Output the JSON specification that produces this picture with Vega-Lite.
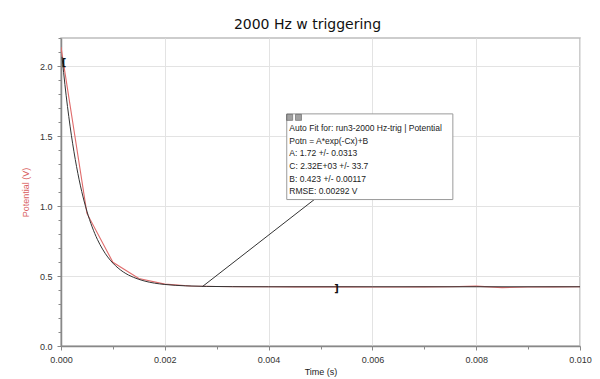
{
  "$schema": "https://vega.github.io/schema/vega-lite/v6.json",
  "autosize": "none",
  "width": 519,
  "height": 308,
  "padding": {"left": 61, "top": 38, "right": 20, "bottom": 33},
  "background": "white",
  "title": {
    "text": "2000 Hz w triggering",
    "font": "DejaVu Sans",
    "fontSize": 14,
    "fontWeight": "normal",
    "color": "#111111",
    "baseline": "alphabetic",
    "offset": -5,
    "dx": -13
  },
  "config": {
    "view": {"stroke": "#bdbdbd", "strokeWidth": 1.5},
    "axis": {
      "labelFont": "Liberation Sans",
      "labelFontSize": 9,
      "labelColor": "#333333",
      "titleFont": "Liberation Sans",
      "titleFontSize": 9,
      "titleFontWeight": "normal",
      "domainColor": "#888888",
      "domainWidth": 1.5,
      "tickColor": "#888888",
      "gridColor": "#e3e3e3",
      "labelPadding": 5
    }
  },
  "datasets": {
    "measured": [
      {"t": 0.0, "v": 2.135},
      {"t": 0.0005, "v": 0.947},
      {"t": 0.001, "v": 0.598},
      {"t": 0.0015, "v": 0.482},
      {"t": 0.002, "v": 0.442},
      {"t": 0.0025, "v": 0.429},
      {"t": 0.003, "v": 0.425},
      {"t": 0.0035, "v": 0.423},
      {"t": 0.004, "v": 0.423},
      {"t": 0.0045, "v": 0.422},
      {"t": 0.005, "v": 0.422},
      {"t": 0.0055, "v": 0.422},
      {"t": 0.006, "v": 0.421},
      {"t": 0.0065, "v": 0.421},
      {"t": 0.007, "v": 0.422},
      {"t": 0.0075, "v": 0.423},
      {"t": 0.008, "v": 0.428},
      {"t": 0.0085, "v": 0.417},
      {"t": 0.009, "v": 0.421},
      {"t": 0.0095, "v": 0.422},
      {"t": 0.01, "v": 0.423}
    ],
    "fit": [
      {"t": 0.00002, "v": 2.065},
      {"t": 0.00005, "v": 1.955},
      {"t": 0.0001, "v": 1.787},
      {"t": 0.00015, "v": 1.639},
      {"t": 0.0002, "v": 1.505},
      {"t": 0.00025, "v": 1.387},
      {"t": 0.0003, "v": 1.281},
      {"t": 0.00035, "v": 1.187},
      {"t": 0.0004, "v": 1.103},
      {"t": 0.0005, "v": 0.962},
      {"t": 0.0006, "v": 0.851},
      {"t": 0.0007, "v": 0.762},
      {"t": 0.0008, "v": 0.692},
      {"t": 0.0009, "v": 0.636},
      {"t": 0.001, "v": 0.592},
      {"t": 0.0011, "v": 0.557},
      {"t": 0.0012, "v": 0.529},
      {"t": 0.0013, "v": 0.507},
      {"t": 0.0014, "v": 0.490},
      {"t": 0.0016, "v": 0.465},
      {"t": 0.0018, "v": 0.449},
      {"t": 0.002, "v": 0.4396},
      {"t": 0.0022, "v": 0.4335},
      {"t": 0.0024, "v": 0.4296},
      {"t": 0.0028, "v": 0.4256},
      {"t": 0.0033, "v": 0.4238},
      {"t": 0.004, "v": 0.4231},
      {"t": 0.006, "v": 0.423},
      {"t": 0.008, "v": 0.423},
      {"t": 0.01, "v": 0.423}
    ],
    "box": [{"t": 0.00435, "t2": 0.00755, "v": 1.658, "v2": 1.046}],
    "leader": [{"t": 0.00272, "v": 0.423, "t2": 0.00488, "v2": 1.046}],
    "notes": [
      {"t": 0.00440, "v": 1.557, "label": "Auto Fit for: run3-2000 Hz-trig | Potential"},
      {"t": 0.00440, "v": 1.461, "label": "Potn = A*exp(-Cx)+B"},
      {"t": 0.00440, "v": 1.376, "label": "A: 1.72 +/- 0.0313"},
      {"t": 0.00440, "v": 1.283, "label": "C: 2.32E+03 +/- 33.7"},
      {"t": 0.00440, "v": 1.194, "label": "B: 0.423 +/- 0.00117"},
      {"t": 0.00440, "v": 1.105, "label": "RMSE: 0.00292 V"}
    ],
    "icons": [
      {"t": 0.004406, "v": 1.633},
      {"t": 0.004576, "v": 1.633}
    ],
    "brackets": [
      {"t": 0.00006, "v": 2.024, "label": "["},
      {"t": 0.00531, "v": 0.406, "label": "]"}
    ]
  },
  "encoding": {
    "x": {
      "field": "t",
      "type": "quantitative",
      "title": "Time (s)",
      "scale": {"domain": [0, 0.01], "nice": false, "zero": false},
      "axis": {
        "values": [0, 0.001, 0.002, 0.003, 0.004, 0.005, 0.006, 0.007, 0.008, 0.009, 0.01],
        "format": ".3f",
        "labelExpr": "abs(datum.value*500 - round(datum.value*500)) < 0.001 ? datum.label : ''",
        "tickSize": {"condition": {"test": "abs(datum.value*500 - round(datum.value*500)) < 0.001", "value": 4}, "value": 3},
        "gridOpacity": {"condition": {"test": "abs(datum.value*500 - round(datum.value*500)) < 0.001", "value": 1}, "value": 0},
        "titleColor": "#222222",
        "titlePadding": 3,
        "labelFlush": false
      }
    },
    "y": {
      "field": "v",
      "type": "quantitative",
      "title": "Potential (V)",
      "scale": {"domain": [0, 2.2], "nice": false},
      "axis": {
        "values": [0, 0.1, 0.2, 0.3, 0.4, 0.5, 0.6, 0.7, 0.8, 0.9, 1.0, 1.1, 1.2, 1.3, 1.4, 1.5, 1.6, 1.7, 1.8, 1.9, 2.0, 2.1, 2.2],
        "format": ".1f",
        "labelExpr": "abs(datum.value*2 - round(datum.value*2)) < 0.001 ? datum.label : ''",
        "tickSize": {"condition": {"test": "abs(datum.value*2 - round(datum.value*2)) < 0.001", "value": 4}, "value": 3},
        "gridOpacity": {"condition": {"test": "abs(datum.value*2 - round(datum.value*2)) < 0.001", "value": 1}, "value": 0},
        "titleColor": "#d9605f",
        "titlePadding": 9
      }
    }
  },
  "layer": [
    {
      "data": {"name": "measured"},
      "mark": {"type": "line", "color": "#e06c6c", "strokeWidth": 1.1, "clip": true}
    },
    {
      "data": {"name": "fit"},
      "mark": {"type": "line", "color": "#333333", "strokeWidth": 1, "interpolate": "monotone", "clip": true}
    },
    {
      "data": {"name": "leader"},
      "mark": {"type": "rule", "color": "#333333", "strokeWidth": 1},
      "encoding": {"x2": {"field": "t2"}, "y2": {"field": "v2"}}
    },
    {
      "data": {"name": "box"},
      "mark": {"type": "rect", "fill": "white", "stroke": "#9a9a9a", "strokeWidth": 1},
      "encoding": {"x2": {"field": "t2"}, "y2": {"field": "v2"}}
    },
    {
      "data": {"name": "icons"},
      "mark": {"type": "square", "size": 36, "filled": true, "color": "#7a7a7a", "stroke": "#444444", "strokeWidth": 0.8}
    },
    {
      "data": {"name": "notes"},
      "mark": {"type": "text", "align": "left", "baseline": "middle", "font": "Liberation Sans", "fontSize": 8.5, "color": "#222222"},
      "encoding": {"text": {"field": "label"}}
    },
    {
      "data": {"name": "brackets"},
      "mark": {"type": "text", "align": "center", "baseline": "middle", "font": "DejaVu Sans", "fontSize": 10, "fontWeight": "bold", "color": "#111111"},
      "encoding": {"text": {"field": "label"}}
    }
  ]
}
